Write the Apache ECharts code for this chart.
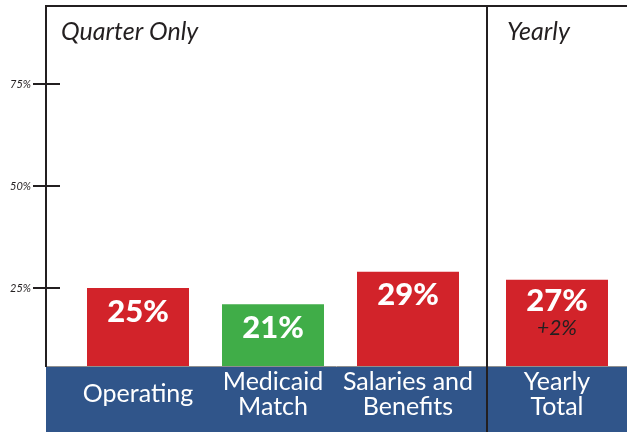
<!DOCTYPE html>
<html>
<head>
<meta charset="utf-8">
<script src="https://cdn.jsdelivr.net/npm/echarts@6/dist/echarts.min.js"></script>
<style>
html,body{margin:0;padding:0;background:#fff;}
#chart{width:627px;height:432px;}
</style>
</head>
<body>
<div id="chart"></div>
<script>
// ---- data ----
const quarterCategories = ['Operating', 'Medicaid\nMatch', 'Salaries and\nBenefits'];
const quarterValues = [25, 21, 29];
const yearlyCategories = ['Yearly\nTotal'];
const yearlyValues = [27];
const yearlyChange = ['+2%'];
const yTickValues = [25, 50, 75];
const panelTitles = ['Quarter Only', 'Yearly'];

// ---- styles ----
const FONT = 'Lato';
const RED = '#d2232a';
const GREEN = '#40ad48';
const BLUE = '#30558a';
const INK = '#231f20';
const quarterColors = [RED, GREEN, RED];
const Y_MAX = 95.59;

const chart = echarts.init(document.getElementById('chart'), null, {renderer: 'canvas'});

const yBase = {
  type: 'value', min: 0, max: Y_MAX, interval: 25,
  splitLine: {show: false}, axisLine: {show: false}
};
const catLabel = {color: '#fff', fontFamily: FONT, fontSize: 25, lineHeight: 25,
  verticalAlign: 'middle', margin: 4, interval: 0};

const option = {
  animation: false,
  backgroundColor: '#fff',
  textStyle: {fontFamily: FONT},
  grid: [
    {left: 70.5, right: 151.5, top: 0, bottom: 42},
    {left: 487, right: 0, top: 0, bottom: 42}
  ],
  xAxis: [
    {type: 'category', gridIndex: 0, data: quarterCategories, z: 6,
      axisLine: {show: false}, axisTick: {show: false}, axisLabel: catLabel},
    {type: 'category', gridIndex: 1, data: yearlyCategories, z: 6,
      axisLine: {show: false}, axisTick: {show: false}, axisLabel: catLabel}
  ],
  yAxis: [
    Object.assign({}, yBase, {
      gridIndex: 0, offset: 10.5,
      axisTick: {show: true, inside: false, length: 27, customValues: yTickValues,
        lineStyle: {color: INK, width: 2}},
      axisLabel: {show: true, customValues: yTickValues, margin: 29,
        formatter: v => v + '%', fontStyle: 'italic', fontSize: 11, color: INK,
        fontFamily: FONT, verticalAlign: 'middle', padding: [0, 0, 6, 0]}
    }),
    Object.assign({}, yBase, {
      gridIndex: 1, axisTick: {show: false}, axisLabel: {show: false}
    })
  ],
  title: [
    {text: panelTitles[0], left: 56, top: 14,
      textStyle: {fontFamily: FONT, fontStyle: 'italic', fontWeight: 'normal', fontSize: 25, color: INK}},
    {text: panelTitles[1], left: 502, top: 14,
      textStyle: {fontFamily: FONT, fontStyle: 'italic', fontWeight: 'normal', fontSize: 25, color: INK}}
  ],
  series: [
    {
      type: 'bar', xAxisIndex: 0, yAxisIndex: 0, barWidth: 102,
      data: quarterValues.map((v, i) => ({value: v, itemStyle: {color: quarterColors[i]}})),
      label: {show: true, position: 'insideTop', distance: 8, formatter: '{c}%',
        color: '#fff', fontWeight: 900, fontSize: 31, fontFamily: FONT}
    },
    {
      type: 'bar', xAxisIndex: 1, yAxisIndex: 1, barWidth: 102,
      data: yearlyValues.map(v => ({value: v, itemStyle: {color: RED}})),
      label: {show: true, position: 'insideTop', distance: 5,
        formatter: p => '{v|' + p.value + '%}\n{c|' + yearlyChange[p.dataIndex] + '}',
        rich: {
          v: {color: '#fff', fontWeight: 900, fontSize: 31, fontFamily: FONT, lineHeight: 32, align: 'center'},
          c: {color: INK, fontStyle: 'italic', fontSize: 21, fontFamily: FONT, lineHeight: 22, align: 'center'}
        }}
    }
  ],
  graphic: [
    {type: 'rect', z: 4, shape: {x: 46, y: 367, width: 581, height: 65}, style: {fill: BLUE}},
    {type: 'line', z: 5, shape: {x1: 46, y1: 366.5, x2: 627, y2: 366.5}, style: {stroke: '#8f8f8f', lineWidth: 1}},
    {type: 'line', z: 10, shape: {x1: 45, y1: 6, x2: 627, y2: 6}, style: {stroke: INK, lineWidth: 2}},
    {type: 'line', z: 10, shape: {x1: 46, y1: 5, x2: 46, y2: 367}, style: {stroke: INK, lineWidth: 2}},
    {type: 'line', z: 10, shape: {x1: 487, y1: 5, x2: 487, y2: 432}, style: {stroke: INK, lineWidth: 2}}
  ]
};
chart.setOption(option);
</script>
</body>
</html>
